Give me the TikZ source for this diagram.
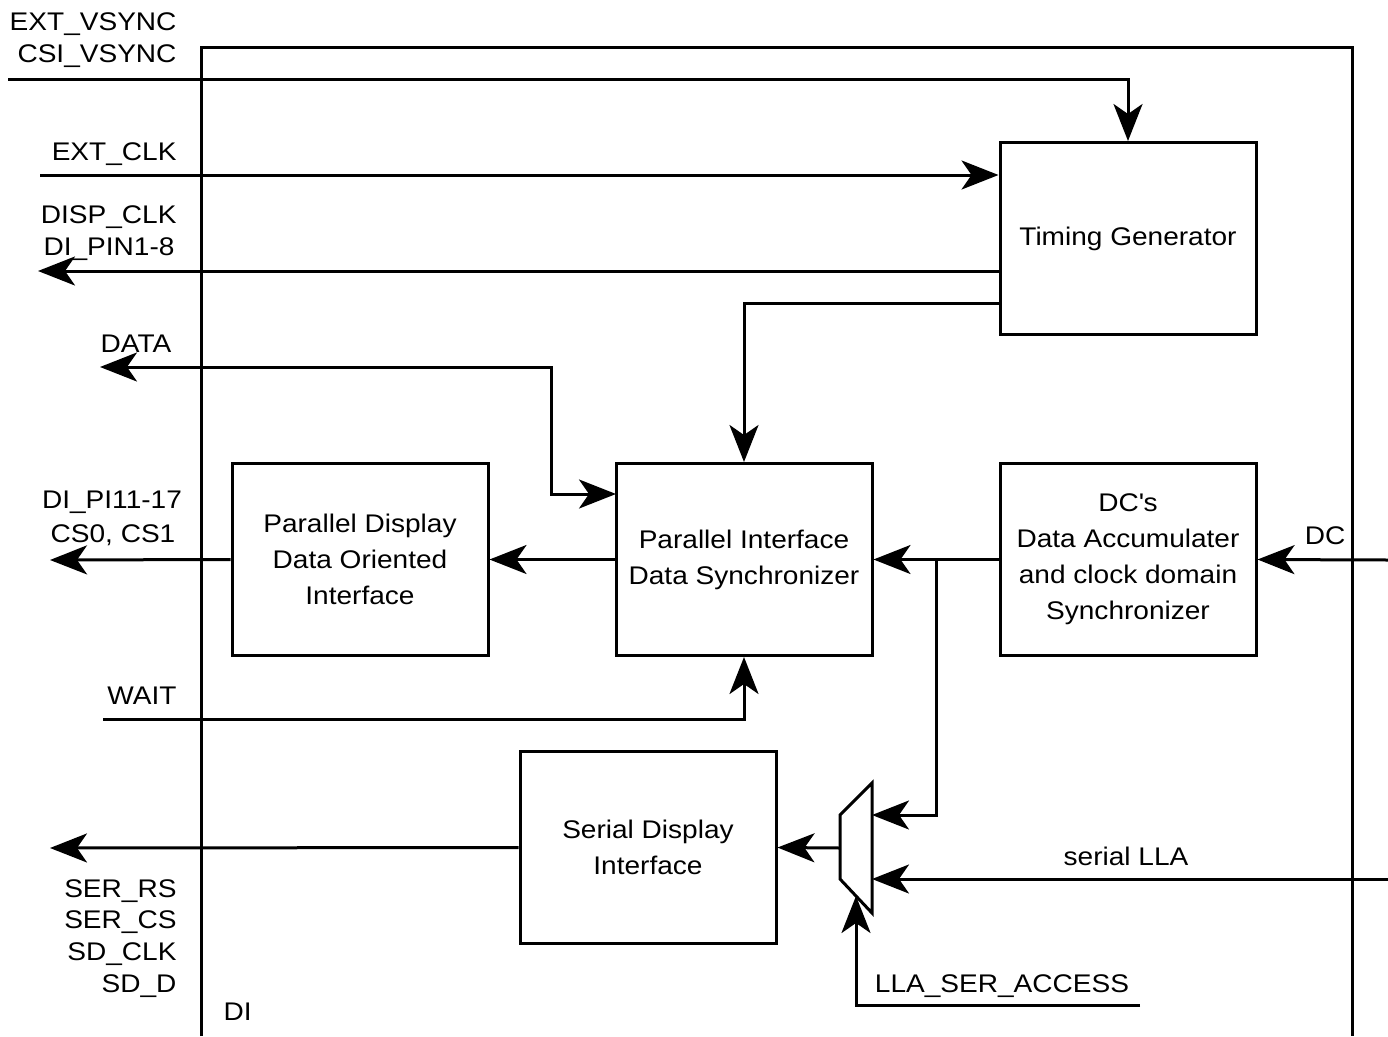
\documentclass[tikz,border=0pt]{standalone}
\usepackage{fontspec}
\setmainfont{Liberation Sans}[FakeStretch=1.1]
\usetikzlibrary{arrows.meta,calc}
\begin{document}
\begin{tikzpicture}[x=1pt,y=-1pt,line width=3pt,
  every node/.style={font=\fontsize{25.5}{36}\selectfont},
  blk/.style={draw,minimum width=256pt,minimum height=192pt,inner sep=0pt,align=center},
  lbl/.style={inner sep=0pt},
  tip/.style={-{Stealth[length=37pt,width=29pt,inset=10pt]}},
  tips/.style={{Stealth[length=37pt,width=29pt,inset=10pt]}-{Stealth[length=37pt,width=29pt,inset=10pt]}}]
\useasboundingbox (0,0) rectangle (1388,1036);
% DI enclosure
\draw (201,1036) -- (201,47) -- (1352,47) -- (1352,1036);
% blocks
\node[blk] (tg) at (1128,238.5) {Timing Generator};
\node[blk] (pddoi) at (360,559.5) {Parallel Display\\Data Oriented\\Interface};
\node[blk] (pids) at (744,559.5) {Parallel Interface\\Data Synchronizer};
\node[blk] (dcs) at (1128,559.5) {DC\textquotesingle s\\Data Accumulater\\and clock domain\\Synchronizer};
\node[blk] (sdi) at (648,847.5) {Serial Display\\Interface};
% mux
\coordinate (mtl) at (840,815); \coordinate (mbl) at (840,879);
\coordinate (mtr) at (872,783); \coordinate (mbr) at (872,913);
\draw[line join=miter] (mtl) -- (mtr) -- (mbr) -- (mbl) -- cycle;
\coordinate (mout) at (840,848);
\coordinate (min1) at (872,815);
\coordinate (min2) at (872,879);
\coordinate (msel) at (856,896);
% free ends
\coordinate (vs0) at (8,79);
\coordinate (clk0) at (40,175);
\coordinate (dclk) at (38,271);
\coordinate (tgo) at (1000,303);
\coordinate (data) at (100,367);
\coordinate (pin) at (616,494);
\coordinate (dio) at (50,560);
\coordinate (wait) at (103,719);
\coordinate (sero) at (50,848);
\coordinate (dcin) at (1388,560);
\coordinate (llain) at (1388,879);
\coordinate (sela) at (1140,1005);
\coordinate (br) at (936,560);
% connectors
\draw[tip] (vs0) -| (tg.north);
\draw[tip] (clk0) -- (tg.west |- clk0);
\draw[tip] (tg.west |- dclk) -- (dclk);
\draw[tip] (tgo) -| (pids.north);
\draw[tips] (data) -| (551,494) -- (pin);
\draw[tip] (pids.west) -- (pddoi.east);
\draw[tip] (pddoi.west) -- (dio);
\draw[tip] (wait) -| (pids.south);
\draw[tip] (dcs.west) -- (pids.east);
\draw[tip] (br) |- (min1);
\draw[tip] (dcin) -- (dcs.east);
\draw[tip] (llain) -- (min2);
\draw[tip] (sela) -| (msel);
\draw[tip] (mout) -- (sdi.east);
\draw[tip] (sdi.west) -- (sero);
% labels
\node[lbl,anchor=base east] (l1) at (178,30) {EXT\_VSYNC};
\node[lbl,anchor=base east] (l2) at (178,62) {CSI\_VSYNC};
\node[lbl,anchor=base east] (l3) at (178,160) {EXT\_CLK};
\node[lbl,anchor=base east] (l4) at (178,223) {DISP\_CLK};
\node[lbl,anchor=base east] (l5) at (176,255) {DI\_PIN1-8};
\node[lbl,anchor=base] (l6) at (136,352) {DATA};
\node[lbl,anchor=base] (l7) at (112,508) {DI\_PI11-17};
\node[lbl,anchor=base] (l8) at (113,542) {CS0, CS1};
\node[lbl,anchor=base] (l9) at (142,704) {WAIT};
\node[lbl,anchor=base east] (l10) at (178,897) {SER\_RS};
\node[lbl,anchor=base east] (l11) at (178,928) {SER\_CS};
\node[lbl,anchor=base east] (l12) at (178,960) {SD\_CLK};
\node[lbl,anchor=base east] (l13) at (178,992) {SD\_D};
\node[lbl,anchor=base west] (l14) at (222,1020) {DI};
\node[lbl,anchor=base] (l15) at (1325,544) {DC};
\node[lbl,anchor=base] (l16) at (1126,865) {serial LLA};
\node[lbl,anchor=base] (l17) at (1002,992) {LLA\_SER\_ACCESS};
\end{tikzpicture}
\end{document}
